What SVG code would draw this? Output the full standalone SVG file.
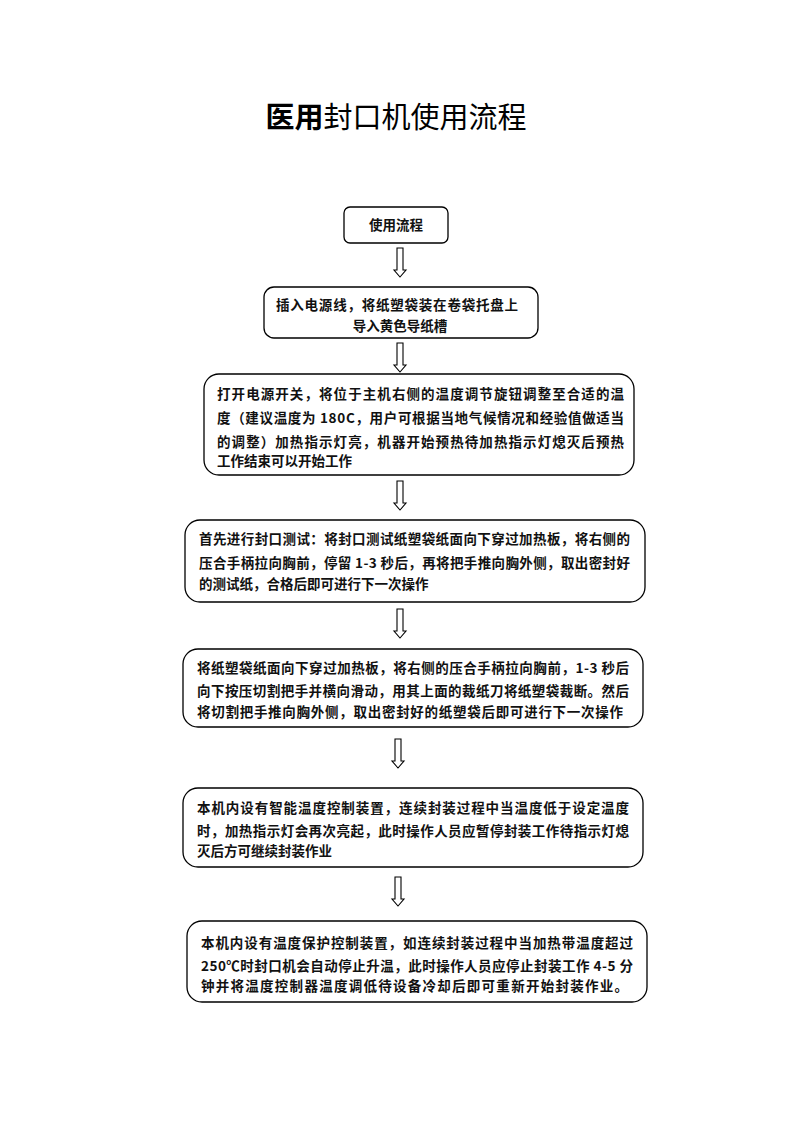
<svg xmlns="http://www.w3.org/2000/svg" width="793" height="1122" viewBox="0 0 793 1122">
<style>
.box{fill:#fff;stroke:#000;stroke-width:1.3}
.t{font-family:"Noto Sans CJK SC","Noto Sans CJK JP",sans-serif;font-size:13.5px;font-weight:700;fill:#111}
.arr{fill:#fff;stroke:#000;stroke-width:1.1;stroke-linejoin:miter}
.title{font-family:"Noto Sans CJK SC",sans-serif;font-size:29px;fill:#000}
</style>
<defs>
<path id="ar" class="arr" d="M-3,0 H3 V22 H6 L0,29 L-6,22 H-3 Z"/>
</defs>
<rect width="793" height="1122" fill="#fff"/>
<text class="title" x="396" y="128" text-anchor="middle"><tspan font-weight="700">医用</tspan>封口机使用流程</text>

<g id="connectors">
<use href="#ar" x="400" y="248"/>
<use href="#ar" x="400" y="343"/>
<use href="#ar" x="400" y="481"/>
<use href="#ar" x="400" y="609"/>
<use href="#ar" x="398" y="739"/>
<use href="#ar" x="398" y="877"/>
</g>

<g id="n1">
<rect class="box" x="344" y="207" width="104" height="36" rx="6"/>
<text class="t" x="396" y="230" text-anchor="middle" font-size="12.5" fill="#333">使用流程</text>
</g>

<g id="n2">
<rect class="box" x="264" y="287" width="274" height="51" rx="10"/>
<text class="t" x="276" y="310" textLength="242" lengthAdjust="spacing">插入电源线，将纸塑袋装在卷袋托盘上</text>
<text class="t" x="400" y="331" text-anchor="middle">导入黄色导纸槽</text>
</g>

<g id="n3">
<rect class="box" x="204" y="374" width="430" height="101" rx="15"/>
<text class="t" x="217" y="399" textLength="407" lengthAdjust="spacing">打开电源开关，将位于主机右侧的温度调节旋钮调整至合适的温</text>
<text class="t" x="217" y="423" textLength="407" lengthAdjust="spacing">度（建议温度为 180C，用户可根据当地气候情况和经验值做适当</text>
<text class="t" x="217" y="447" textLength="407" lengthAdjust="spacing">的调整）加热指示灯亮，机器开始预热待加热指示灯熄灭后预热</text>
<text class="t" x="217" y="466">工作结束可以开始工作</text>
</g>

<g id="n4">
<rect class="box" x="185" y="520" width="460" height="82" rx="15"/>
<text class="t" x="199" y="544" textLength="431" lengthAdjust="spacing">首先进行封口测试：将封口测试纸塑袋纸面向下穿过加热板，将右侧的</text>
<text class="t" x="199" y="568" textLength="431" lengthAdjust="spacing">压合手柄拉向胸前，停留 1-3 秒后，再将把手推向胸外侧，取出密封好</text>
<text class="t" x="199" y="589">的测试纸，合格后即可进行下一次操作</text>
</g>

<g id="n5">
<rect class="box" x="183" y="649" width="460" height="78" rx="15"/>
<text class="t" x="197" y="673" textLength="432" lengthAdjust="spacing">将纸塑袋纸面向下穿过加热板，将右侧的压合手柄拉向胸前，1-3 秒后</text>
<text class="t" x="197" y="696" textLength="432" lengthAdjust="spacing">向下按压切割把手并横向滑动，用其上面的裁纸刀将纸塑袋裁断。然后</text>
<text class="t" x="197" y="717" textLength="426" lengthAdjust="spacing">将切割把手推向胸外侧，取出密封好的纸塑袋后即可进行下一次操作</text>
</g>

<g id="n6">
<rect class="box" x="183" y="788" width="460" height="79" rx="15"/>
<text class="t" x="197" y="813" textLength="432" lengthAdjust="spacing">本机内设有智能温度控制装置，连续封装过程中当温度低于设定温度</text>
<text class="t" x="197" y="836" textLength="432" lengthAdjust="spacing">时，加热指示灯会再次亮起，此时操作人员应暂停封装工作待指示灯熄</text>
<text class="t" x="197" y="856">灭后方可继续封装作业</text>
</g>

<g id="n7">
<rect class="box" x="187" y="921" width="460" height="81" rx="15"/>
<text class="t" x="201" y="948" textLength="432" lengthAdjust="spacing">本机内设有温度保护控制装置，如连续封装过程中当加热带温度超过</text>
<text class="t" x="201" y="971" textLength="432" lengthAdjust="spacing">250℃时封口机会自动停止升温，此时操作人员应停止封装工作 4-5 分</text>
<text class="t" x="201" y="991" textLength="427" lengthAdjust="spacing">钟并将温度控制器温度调低待设备冷却后即可重新开始封装作业。</text>
</g>
</svg>
